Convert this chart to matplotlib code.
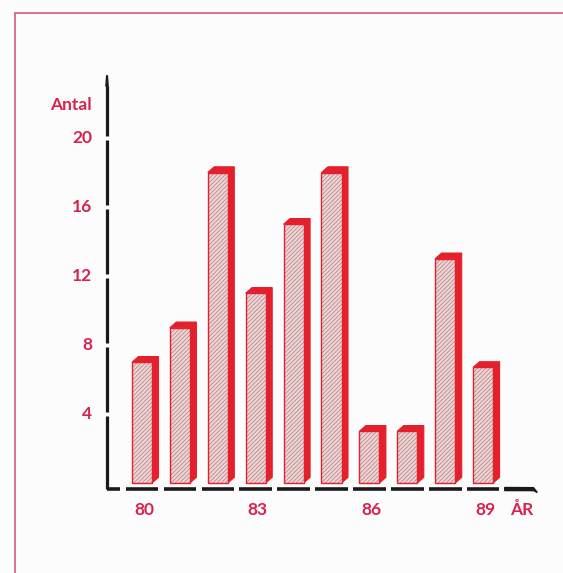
import matplotlib
matplotlib.use("Agg")
import matplotlib.pyplot as plt
from matplotlib.patches import Rectangle, Polygon
from matplotlib.lines import Line2D

# Data
years = ["80", "81", "82", "83", "84", "85", "86", "87", "88", "89"]
counts = [7, 9, 18, 11, 15, 18, 3, 3, 13, 6.7]
y_ticks = [4, 8, 12, 16, 20]
x_labelled = ["80", "83", "86", "89"]

TEXT_RED = "#d8224f"
BAR_RED = "#e3202c"
FRAME = "#d9709a"
FACE = "#f0d3d3"
HATCH = "#a88087"

plt.rcParams["hatch.linewidth"] = 0.5
plt.rcParams["font.family"] = ["Lato", "DejaVu Sans"]

fig = plt.figure(figsize=(5.63, 5.73), dpi=100)
fig.patch.set_facecolor("#fdfcfc")
ax = fig.add_axes([0, 0, 1, 1])
ax.set_xlim(-3.747, 11.108)
ax.set_ylim(-5.217, 28.0)
ax.axis("off")

# outer frame (top and left rules)
fig.add_artist(Line2D([0.027, 1.0], [0.978, 0.978], transform=fig.transFigure,
                      color=FRAME, lw=1.4))
fig.add_artist(Line2D([0.027, 0.027], [0.0, 0.978], transform=fig.transFigure,
                      color=FRAME, lw=1.4))

w = 0.53      # front face width
dx = 0.17     # depth offset in x
dy = 0.33     # depth offset in y

for i, v in enumerate(counts):
    x0, x1 = i - w / 2, i + w / 2
    # side face
    ax.add_patch(Polygon([(x1, 0), (x1 + dx, dy), (x1 + dx, v + dy), (x1, v)],
                         closed=True, facecolor=BAR_RED, edgecolor=BAR_RED,
                         lw=0.8, zorder=2))
    # top cap
    ax.add_patch(Polygon([(x0, v), (x0 + dx, v + dy), (x1 + dx, v + dy), (x1, v)],
                         closed=True, facecolor=BAR_RED, edgecolor=BAR_RED,
                         lw=0.8, zorder=2))
    # hatched front face
    ax.add_patch(Rectangle((x0, 0), w, v, facecolor=FACE, edgecolor=HATCH,
                           hatch="////////", lw=0, zorder=3))
    ax.add_patch(Rectangle((x0, 0), w, v, facecolor="none", edgecolor=BAR_RED,
                           lw=1.0, zorder=4))

# vertical axis, broken at each tick
axis_x = -0.923
base_y = -0.35
top_y = 23.6
gap = 0.12
seg_start = base_y
for t in y_ticks:
    ax.plot([axis_x, axis_x], [seg_start, t - gap], color="#1a1a1a", lw=2.3,
            solid_capstyle="butt", zorder=5)
    seg_start = t + gap
ax.plot([axis_x, axis_x], [seg_start, top_y - 0.6], color="#1a1a1a", lw=2.3,
        solid_capstyle="butt", zorder=5)
ax.add_patch(Polygon([(axis_x - 0.03, top_y - 0.6), (axis_x + 0.03, top_y - 0.6),
                      (axis_x + 0.01, top_y), (axis_x - 0.01, top_y)],
                     closed=True, color="#1a1a1a", zorder=5))

# horizontal axis as dashes under each year
half = 0.43
ax.plot([axis_x, -0.58], [base_y, base_y], color="#1a1a1a", lw=2.6,
        solid_capstyle="butt", zorder=5)
for i in range(len(years)):
    ax.plot([i - half, i + half], [base_y, base_y], color="#1a1a1a", lw=2.6,
            solid_capstyle="butt", zorder=5)
end = len(years)
ax.add_patch(Polygon([(end - half, base_y - 0.09), (end + half - 0.1, base_y - 0.09),
                      (end + half, base_y - 0.2), (end + half - 0.1, base_y + 0.08),
                      (end - half, base_y + 0.09)],
                     closed=True, color="#1a1a1a", zorder=5))

# labels
fs = 12.5
for t in y_ticks:
    ax.text(-1.32, t, str(t), color=TEXT_RED, fontsize=fs, fontweight="bold",
            ha="right", va="center")
ax.text(-1.32, 21.92, "Antal", color=TEXT_RED, fontsize=fs, fontweight="bold",
        ha="right", va="center")
for lab in x_labelled:
    i = years.index(lab)
    ax.text(i + 0.05, -1.55, lab, color=TEXT_RED, fontsize=fs, fontweight="bold",
            ha="center", va="center")
ax.text(end + 0.03, -1.55, "ÅR", color=TEXT_RED, fontsize=fs, fontweight="bold",
        ha="center", va="center")

fig.savefig("out.png", dpi=100)
